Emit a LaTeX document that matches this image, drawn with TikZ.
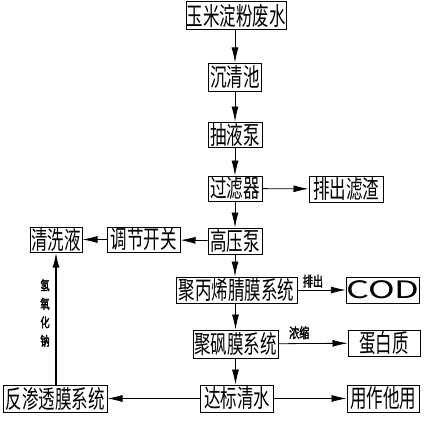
\documentclass[tikz,border=0pt]{standalone}
\usepackage{fontspec}
\newfontfamily\cjk[FakeStretch=0.66]{Noto Sans CJK SC}
\newfontfamily\cjks[FakeStretch=0.72,FakeBold=2]{Noto Sans CJK SC}
\newfontfamily\cjkw[FakeStretch=1.5]{Noto Sans CJK SC}
\usetikzlibrary{arrows.meta}
\begin{document}
\begin{tikzpicture}[x=1pt,y=-1pt,
  box/.style={draw,line width=1pt,inner sep=0pt,font=\cjk\fontsize{25}{25}\selectfont},
  arr/.style={line width=0.8pt,-{Latex[length=15pt,width=7pt]}},
  lab/.style={font=\cjks\fontsize{14}{14}\selectfont,inner sep=0pt}]
\useasboundingbox (0,0) rectangle (425,420);
\node[box,minimum width=100pt,minimum height=28pt] (a) at (236,16) {玉米淀粉废水};
\node[box,minimum width=53pt,minimum height=28pt] (b) at (235,77) {沉清池};
\node[box,minimum width=54pt,minimum height=25pt] (c) at (235,134.5) {抽液泵};
\node[box,minimum width=54pt,minimum height=25pt] (d) at (235,188.5) {过滤器};
\node[box,minimum width=74pt,minimum height=26pt] (e) at (346,189) {排出滤渣};
\node[box,minimum width=54pt,minimum height=26pt] (f) at (235,241) {高压泵};
\node[box,minimum width=52pt,minimum height=25pt] (g) at (56,239.5) {清洗液};
\node[box,minimum width=73pt,minimum height=25pt] (h) at (143.5,239.5) {调节开关};
\node[box,minimum width=121pt,minimum height=26pt] (i) at (236.5,290) {聚丙烯腈膜系统};
\node[box,minimum width=70pt,minimum height=26pt,font=\cjkw\fontsize{24}{24}\selectfont] (j) at (383,290) {COD};
\node[box,minimum width=85pt,minimum height=28pt] (k) at (235.5,344) {聚砜膜系统};
\node[box,minimum width=72pt,minimum height=26pt] (l) at (384,343) {蛋白质};
\node[box,minimum width=73pt,minimum height=27pt] (m) at (237,398.5) {达标清水};
\node[box,minimum width=72pt,minimum height=27pt] (n) at (383,398.5) {用作他用};
\node[box,minimum width=104pt,minimum height=27pt] (o) at (55,398.5) {反渗透膜系统};
\draw[arr] (a.south -| b) -- (b);
\draw[arr] (b) -- (c);
\draw[arr] (c) -- (d);
\draw[arr] (d) -- (e);
\draw[arr] (d) -- (f);
\draw[arr] (f) -- (h);
\draw[arr] (h) -- (g);
\draw[arr] (f) -- (f |- i.north);
\draw[arr] (i) -- node[lab,above=2pt,pos=0.32] {排出} (j);
\draw[arr] (k) -- node[lab,above=4pt,pos=0.3] {浓缩} (l);
\draw[arr] (i.south -| k) -- (k);
\draw[arr] (k) -- (k |- m.north);
\draw[arr] (m) -- (n);
\draw[arr] (m) -- (o);
\draw[line width=1.6pt,-{Latex[length=15pt,width=7pt]}] (o.north -| g) -- (g);
\node[lab,align=center,font=\cjks\fontsize{13}{18.5}\selectfont] (t) at (45,313) {氢\\氧\\化\\钠};
\end{tikzpicture}
\end{document}
